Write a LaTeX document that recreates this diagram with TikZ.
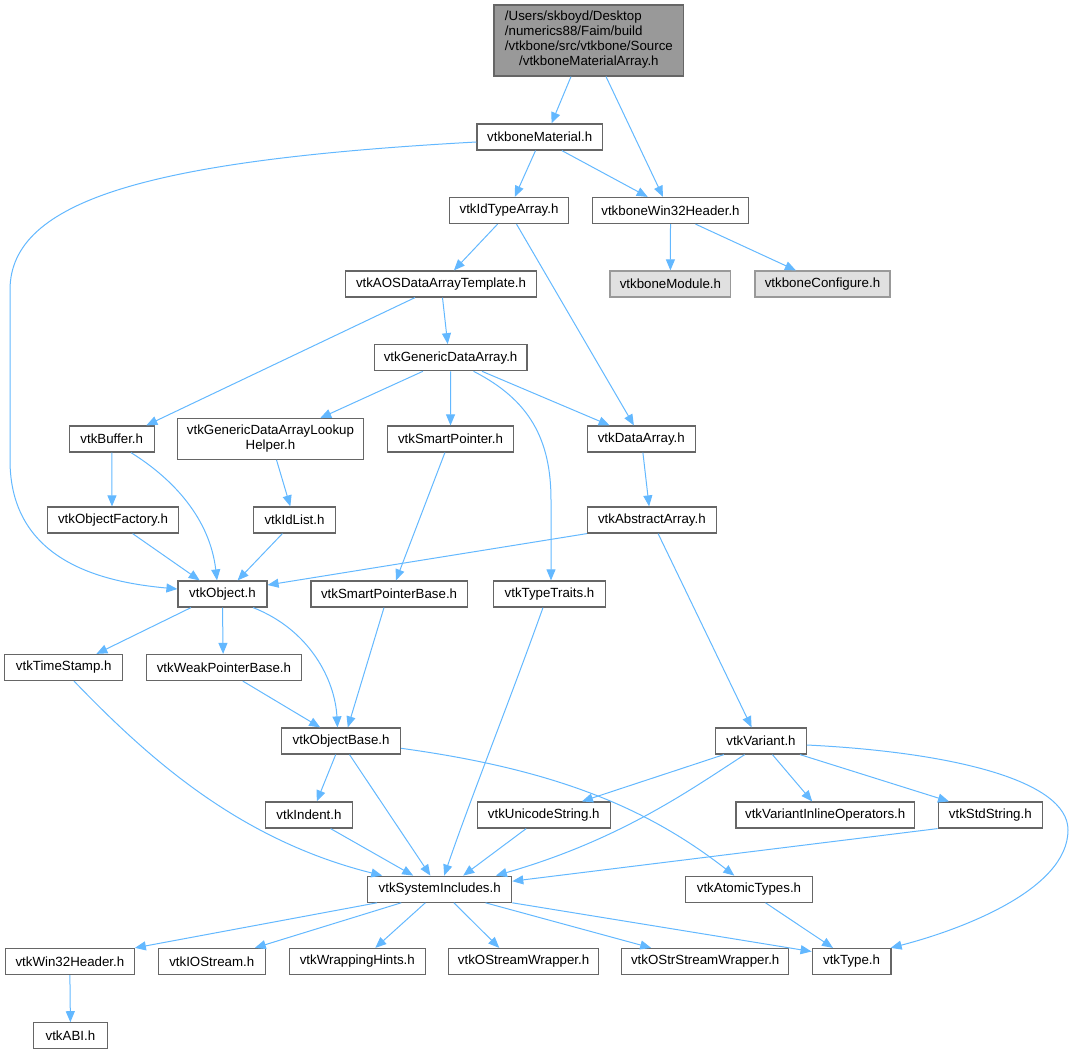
\documentclass[tikz,border=0pt]{standalone}
\usepackage{fontspec}
\setmainfont{Liberation Sans}
\usetikzlibrary{arrows.meta}
\definecolor{edgeblue}{HTML}{63B8FF}
\definecolor{boxline}{HTML}{666666}
\definecolor{rootfill}{HTML}{999999}
\definecolor{extfill}{HTML}{E0E0E0}
\definecolor{extline}{HTML}{999999}

\begin{document}
\begin{tikzpicture}[x=1pt, y=-1pt,
    font=\fontsize{13.3}{15}\selectfont,
    hdr/.style={draw=boxline, fill=white, line width=1.2pt, inner sep=0pt, minimum height=26pt},
    roothdr/.style={hdr, fill=rootfill},
    exthdr/.style={hdr, draw=extline, fill=extfill},
    dep/.style={draw=edgeblue, line width=1pt, -{Triangle[length=11pt,width=9pt]}}]
    \useasboundingbox (0,0) rectangle (1073,1054);

    % files
    \node[roothdr, minimum width=189.7, minimum height=71] (root) at (588.9,40.5)
        {\begin{tabular}{@{}l@{}}/Users/skboyd/Desktop\\/numerics88/Faim/build\\/vtkbone/src/vtkbone/Source\\\multicolumn{1}{@{}c@{}}{/vtkboneMaterialArray.h}\end{tabular}};
    \node[hdr, minimum width=125.4] (mat) at (539.7,137) {vtkboneMaterial.h};
    \node[hdr, minimum width=118.7] (idt) at (509,210.5) {vtkIdTypeArray.h};
    \node[hdr, minimum width=156.5] (bw32) at (670.5,210.5) {vtkboneWin32Header.h};
    \node[hdr, minimum width=191] (aos) at (441,284) {vtkAOSDataArrayTemplate.h};
    \node[exthdr, minimum width=120.8] (bmod) at (670.4,284) {vtkboneModule.h};
    \node[exthdr, minimum width=135] (bcfg) at (822.5,284) {vtkboneConfigure.h};
    \node[hdr, minimum width=152.6] (gda) at (450.6,357.7) {vtkGenericDataArray.h};
    \node[hdr, minimum width=85] (buf) at (111.75,439) {vtkBuffer.h};
    \node[hdr, minimum width=185.6, minimum height=40.6, align=center] (lkh) at (270.5,439) {vtkGenericDataArrayLookup\\Helper.h};
    \node[hdr, minimum width=125.7] (sp) at (450.5,439) {vtkSmartPointer.h};
    \node[hdr, minimum width=107.7] (da) at (641.3,439) {vtkDataArray.h};
    \node[hdr, minimum width=131] (of) at (113,520) {vtkObjectFactory.h};
    \node[hdr, minimum width=82.3] (idl) at (294.5,520) {vtkIdList.h};
    \node[hdr, minimum width=128.8] (aa) at (651.9,520) {vtkAbstractArray.h};
    \node[hdr, minimum width=89] (obj) at (222.5,594) {vtkObject.h};
    \node[hdr, minimum width=156.3] (spb) at (389.1,594) {vtkSmartPointerBase.h};
    \node[hdr, minimum width=111.3] (tt) at (549.5,594) {vtkTypeTraits.h};
    \node[hdr, minimum width=117.8] (ts) at (63.7,667.5) {vtkTimeStamp.h};
    \node[hdr, minimum width=155] (wpb) at (223.9,667.5) {vtkWeakPointerBase.h};
    \node[hdr, minimum width=118.8] (ob) at (341.1,741) {vtkObjectBase.h};
    \node[hdr, minimum width=90.7] (var) at (761,741) {vtkVariant.h};
    \node[hdr, minimum width=87] (ind) at (309,815) {vtkIndent.h};
    \node[hdr, minimum width=133] (us) at (543.8,815) {vtkUnicodeString.h};
    \node[hdr, minimum width=178.3] (vio) at (825.2,815) {vtkVariantInlineOperators.h};
    \node[hdr, minimum width=104.3] (ss) at (990.3,815) {vtkStdString.h};
    \node[hdr, minimum width=144] (si) at (439.7,889.2) {vtkSystemIncludes.h};
    \node[hdr, minimum width=126.4] (at) at (749,889.2) {vtkAtomicTypes.h};
    \node[hdr, minimum width=128.8] (w32) at (69.9,961.5) {vtkWin32Header.h};
    \node[hdr, minimum width=106.8] (ios) at (211.8,961.5) {vtkIOStream.h};
    \node[hdr, minimum width=136] (wh) at (357.3,961.5) {vtkWrappingHints.h};
    \node[hdr, minimum width=149.9] (osw) at (523.6,961.5) {vtkOStreamWrapper.h};
    \node[hdr, minimum width=166.9] (ossw) at (705.2,961.5) {vtkOStrStreamWrapper.h};
    \node[hdr, minimum width=78.9] (typ) at (851.6,961.5) {vtkType.h};
    \node[hdr, minimum width=73.4] (abi) at (70.4,1035.8) {vtkABI.h};

    % includes
    \draw[dep] ([xshift=-17.9]root.south) -- ([xshift=11.8]mat.north); % root-mat
    \draw[dep] ([xshift=17.1]root.south) -- ([xshift=-7.5]bw32.north); % root-bw32
    \draw[dep] ([yshift=-5]mat.west) .. controls (150,160) and (10,200) .. (10,290)
        -- (10,460) .. controls (10,560) and (100,582) .. ([yshift=5]obj.west); % mat-obj
    \draw[dep] ([xshift=-4.2]mat.south) -- ([xshift=5.8]idt.north); % mat-idt
    \draw[dep] ([xshift=22.2]mat.south) -- ([xshift=-22.8]bw32.north); % mat-bw32
    \draw[dep] ([xshift=-11.4]idt.south) -- ([xshift=12.9]aos.north); % idt-aos
    \draw[dep] ([xshift=7.5]idt.south) -- ([xshift=-7.4]da.north); % idt-da
    \draw[dep] (bw32.south) -- (bmod.north); % bw32-bmod
    \draw[dep] ([xshift=25]bw32.south) -- ([xshift=-26.6]bcfg.north); % bw32-bcfg
    \draw[dep] ([xshift=-26]aos.south) -- ([xshift=34.6]buf.north); % aos-buf
    \draw[dep] ([xshift=1.5]aos.south) -- ([xshift=-2.9]gda.north); % aos-gda
    \draw[dep] ([xshift=-27.7]gda.south) -- ([xshift=49.7]lkh.north); % gda-lkh
    \draw[dep] (gda.south) -- (sp.north); % gda-sp
    \draw[dep] ([xshift=31.4]gda.south) -- ([xshift=-31.7]da.north); % gda-da
    \draw[dep] ([xshift=22.9]gda.south) .. controls (530,400) and (551,440) .. (551,500)
        -- ([xshift=1.5]tt.north); % gda-tt
    \draw[dep] (buf.south) -- ([xshift=-1]of.north); % buf-of
    \draw[dep] ([xshift=19.2]buf.south) .. controls (175,480) and (210,520) .. ([xshift=-5.5]obj.north); % buf-obj
    \draw[dep] ([xshift=6]lkh.south) -- ([xshift=-4.2]idl.north); % lkh-idl
    \draw[dep] ([xshift=-5.6]sp.south) -- ([xshift=6.9]spb.north); % sp-spb
    \draw[dep] ([xshift=1.6]da.south) -- ([xshift=-2.8]aa.north); % da-aa
    \draw[dep] ([xshift=19.6]of.south) -- ([xshift=-22.8]obj.north); % of-obj
    \draw[dep] ([xshift=-12.1]idl.south) -- ([xshift=15.1]obj.north); % idl-obj
    \draw[dep] (aa.south west) -- ([yshift=9]obj.east); % aa-obj
    \draw[dep] ([xshift=6.2]aa.south) -- ([xshift=-9.4]var.north); % aa-var
    \draw[dep] ([xshift=-31.5]obj.south) -- ([xshift=32.7]ts.north); % obj-ts
    \draw[dep] (obj.south) -- ([xshift=-0.8]wpb.north); % obj-wpb
    \draw[dep] ([xshift=30.6]obj.south) .. controls (310,630) and (335,680) .. ([xshift=-3.6]ob.north); % obj-ob
    \draw[dep] ([xshift=-5.1]spb.south) -- ([xshift=6.7]ob.north); % spb-ob
    \draw[dep] ([xshift=10.3]ts.south) .. controls (150,760) and (240,840) .. ([xshift=-57.5]si.north); % ts-si
    \draw[dep] ([xshift=18.9]wpb.south) -- ([xshift=-20.9]ob.north); % wpb-ob
    \draw[dep] ([xshift=-6.5]tt.south) .. controls (510,700) and (470,800) .. ([xshift=4.5]si.north); % tt-si
    \draw[dep] ([xshift=-5.4]ob.south) -- ([xshift=7.8]ind.north); % ob-ind
    \draw[dep] ([xshift=8.4]ob.south) -- ([xshift=-9.3]si.north); % ob-si
    \draw[dep] ([yshift=-7.3]ob.east) .. controls (560,770) and (650,810) .. ([xshift=-14.7]at.north); % ob-at
    \draw[dep] ([xshift=21.6]ind.south) -- ([xshift=-26.5]si.north); % ind-si
    \draw[dep] ([xshift=-17.6]us.south) -- ([xshift=23.5]si.north); % us-si
    \draw[dep] ([xshift=-37.1]var.south) -- ([xshift=38.1]us.north); % var-us
    \draw[dep] ([xshift=-16.3]var.south) .. controls (690,790) and (620,840) .. ([xshift=56.2]si.north); % var-si
    \draw[dep] ([xshift=11.4]var.south) -- ([xshift=-13]vio.north); % var-vio
    \draw[dep] ([xshift=39]var.south) -- ([xshift=-41.3]ss.north); % var-ss
    \draw[dep] ([yshift=-4]var.east) .. controls (950,752) and (1068,780) .. (1068,830)
        .. controls (1068,890) and (960,930) .. ([xshift=-1]typ.north east); % var-typ
    \draw[dep] (ss.south west) -- ([yshift=8]si.east); % ss-si
    \draw[dep] ([xshift=16.5]at.south) -- ([xshift=-18.6]typ.north); % at-typ
    \draw[dep] ([xshift=-62.7]si.south) -- (w32.north east); % si-w32
    \draw[dep] ([xshift=-38.5]si.south) -- ([xshift=43]ios.north); % si-ios
    \draw[dep] ([xshift=-14.4]si.south) -- ([xshift=18]wh.north); % si-wh
    \draw[dep] ([xshift=14.2]si.south) -- ([xshift=-24.3]osw.north); % si-osw
    \draw[dep] ([xshift=45.8]si.south) -- ([xshift=-54]ossw.north); % si-ossw
    \draw[dep] (si.south east) -- ([yshift=10]typ.west); % si-typ
    \draw[dep] (w32.south) -- (abi.north); % w32-abi
\end{tikzpicture}
\end{document}
